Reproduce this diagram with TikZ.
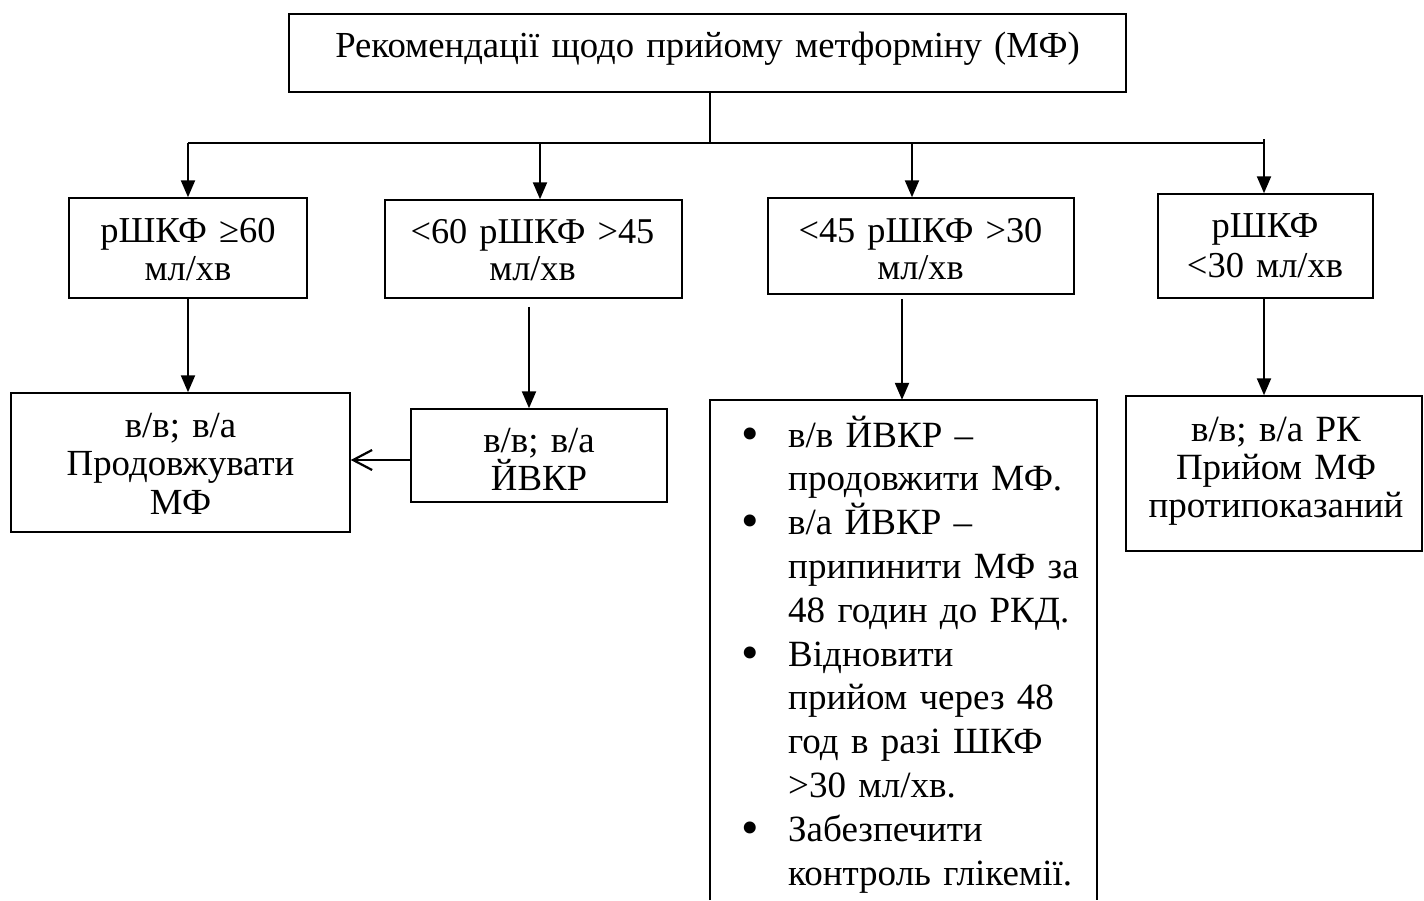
\documentclass[tikz,border=0pt]{standalone}
\usepackage{fontspec}
\setmainfont{Liberation Serif}
\usetikzlibrary{arrows.meta}
\newcommand{\bul}{\makebox[47pt][l]{\raisebox{-3pt}{\fontsize{50}{0}\selectfont •}}}
\newcommand{\ind}{\hspace*{47pt}}
\begin{document}
\begin{tikzpicture}[x=1pt,y=-1pt,
  boxr/.style={draw, line width=1.5pt, inner sep=0pt},
  txt/.style={inner sep=0pt, align=center, text width=#1, anchor=base},
  conn/.style={line width=2.2pt},
  arr/.style={line width=2.2pt, -{Triangle[length=17pt,width=14pt]}},
  barb/.style={line width=2.2pt, -{Straight Barb[length=19pt,width=20pt,line width=2.2pt]}}]
\useasboundingbox (0,0) rectangle (1424,900);
\fill[white] (0,0) rectangle (1424,900);
% boxes
\node[boxr, minimum width=837pt, minimum height=78pt] (T) at (707.5,53) {};
\node[boxr, minimum width=238pt, minimum height=100pt] (A) at (188,248) {};
\node[boxr, minimum width=297pt, minimum height=98pt] (B) at (533.5,249) {};
\node[boxr, minimum width=306pt, minimum height=96pt] (C) at (921,246) {};
\node[boxr, minimum width=215pt, minimum height=104pt] (D) at (1265.5,246) {};
\node[boxr, minimum width=339pt, minimum height=139pt] (E) at (180.5,462.5) {};
\node[boxr, minimum width=256pt, minimum height=93pt] (F) at (539,455.5) {};
\node[inner sep=0pt, minimum width=387pt, minimum height=500pt] (G) at (903.5,650) {};
\draw[line width=1.5pt] (G.south west) -- (G.north west) -- (G.north east) -- (G.south east);
\node[boxr, minimum width=296pt, minimum height=155pt] (H) at (1274,473.5) {};
% texts
\node[txt=830pt, font=\fontsize{36.7}{40}\selectfont] (Tt) at (707.5,57) {Рекомендації щодо прийому метформіну (МФ)};
\node[txt=234pt, font=\fontsize{36.5}{38}\selectfont] (At) at (188,242) {рШКФ ≥60\\мл/хв};
\node[txt=294pt, font=\fontsize{36.3}{37}\selectfont] (Bt) at (532.5,243) {<60 рШКФ >45\\мл/хв};
\node[txt=304pt, font=\fontsize{36.3}{37}\selectfont] (Ct) at (920.5,242) {<45 рШКФ >30\\мл/хв};
\node[txt=212pt, font=\fontsize{36.5}{40}\selectfont] (Dt) at (1265,237) {рШКФ\\<30 мл/хв};
\node[txt=336pt, font=\fontsize{36.8}{38.5}\selectfont] (Et) at (180.5,437) {в/в; в/а\\Продовжувати\\МФ};
\node[txt=254pt, font=\fontsize{36.8}{38}\selectfont] (Ft) at (539,452) {в/в; в/а\\ЙВКР};
\node[txt=294pt, font=\fontsize{37}{38}\selectfont] (Ht) at (1276,441) {в/в; в/а РК\\Прийом МФ\\протипоказаний};
\node[inner sep=0pt, align=left, text width=355pt, anchor=base west, font=\fontsize{37}{43.8}\selectfont] (Gt) at (741,447)
  {\bul в/в ЙВКР –\\
   \ind продовжити МФ.\\
   \bul в/а ЙВКР –\\
   \ind припинити МФ за\\
   \ind 48 годин до РКД.\\
   \bul Відновити\\
   \ind прийом через 48\\
   \ind год в разі ШКФ\\
   \ind >30 мл/хв.\\
   \bul Забезпечити\\
   \ind контроль глікемії.};
% connectors
\coordinate (j) at (710,143);
\coordinate (c1) at (188,143);
\coordinate (c2) at (540,143);
\coordinate (c3) at (912,143);
\coordinate (c4) at (1264,143);
\coordinate (c4t) at (1264,139);
\draw[conn] (T.south -| j) -- (j);
\draw[line width=2.6pt] (c1) -- (c4);
\draw[conn] (c4t) -- (c4);
\draw[arr] (c1) -- (c1 |- A.north);
\draw[arr] (c2) -- (c2 |- B.north);
\draw[arr] (c3) -- (c3 |- C.north);
\draw[arr] (c4) -- (c4 |- D.north);
\draw[arr] (A.south) -- (A.south |- E.north);
\draw[arr] ([xshift=-4.5pt,yshift=-8pt]B.south) -- ([xshift=-4.5pt]B.south |- F.north);
\draw[arr] ([xshift=-19pt,yshift=-4pt]C.south) -- ([xshift=-19pt]C.south |- G.north);
\draw[arr] ([xshift=-1.5pt]D.south) -- ([xshift=-1.5pt]D.south |- H.north);
\coordinate (fy) at (0,460);
\draw[barb] (F.west |- fy) -- (E.east |- fy);
\end{tikzpicture}
\end{document}
